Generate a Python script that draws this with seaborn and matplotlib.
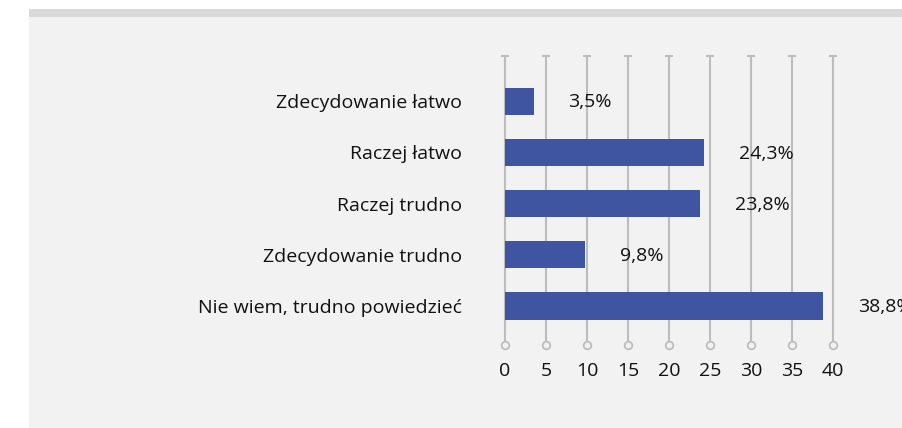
import matplotlib
matplotlib.use("Agg")
import matplotlib.pyplot as plt
import seaborn as sns
import pandas as pd
from matplotlib.patches import Rectangle

categories = ["Zdecydowanie łatwo", "Raczej łatwo", "Raczej trudno",
              "Zdecydowanie trudno", "Nie wiem, trudno powiedzieć"]
values = [3.5, 24.3, 23.8, 9.8, 38.8]
value_labels = ["3,5%", "24,3%", "23,8%", "9,8%", "38,8%"]
xticks = [0, 5, 10, 15, 20, 25, 30, 35, 40]

sns.set_theme(style="white")
plt.rcParams['font.family'] = ['Open Sans', 'DejaVu Sans']

W, H = 902, 428
fig = plt.figure(figsize=(W / 100, H / 100), dpi=100)
fig.patch.set_facecolor("white")
panel = "#f2f2f2"
fig.add_artist(Rectangle((29 / W, 0), 1 - 29 / W, (H - 17) / H, transform=fig.transFigure,
                         facecolor=panel, edgecolor="none", zorder=-10))
fig.add_artist(Rectangle((29 / W, (H - 17) / H), 1 - 29 / W, 8 / H, transform=fig.transFigure,
                         facecolor="#d9d9d9", edgecolor="none", zorder=-10))

ax = fig.add_axes([505 / W, 1 - 345 / H, 328 / W, (345 - 56) / H])
ax.set_facecolor("none")

df = pd.DataFrame({"cat": categories, "val": values})
sns.barplot(data=df, x="val", y="cat", orient="h", color="#3f55a1", saturation=1,
            width=0.53, linewidth=0, ax=ax, zorder=3)

ax.set_xlim(0, 40)
ax.set_ylim(4.76, -0.88)
grid_c = "#bdbdbd"
for t in xticks:
    ax.plot([t, t], [4.76, -0.88], color=grid_c, lw=1.5, zorder=1, clip_on=False)
ax.plot(xticks, [4.76] * len(xticks), linestyle="none", marker="o", ms=5.5,
        mfc=panel, mec=grid_c, mew=1.3, clip_on=False, zorder=2)
ax.plot(xticks, [-0.88] * len(xticks), linestyle="none", marker="_", ms=6,
        mec=grid_c, mew=1.5, clip_on=False, zorder=2)

for s in ax.spines.values():
    s.set_visible(False)
ax.set_xticks(xticks)
ax.set_xticklabels([str(t) for t in xticks])
fs = 14
ax.tick_params(axis="x", length=0, pad=12, labelsize=fs, labelcolor="#111111")
ax.tick_params(axis="y", length=0, pad=31, labelsize=fs, labelcolor="#111111")
ax.set_xlabel("")
ax.set_ylabel("")

for i, (v, lab) in enumerate(zip(values, value_labels)):
    ax.annotate(lab, xy=(v, i), xytext=(25, -1), textcoords="offset points",
                ha="left", va="center", fontsize=fs, color="#111111", annotation_clip=False)

fig.savefig("out.png", dpi=100)
